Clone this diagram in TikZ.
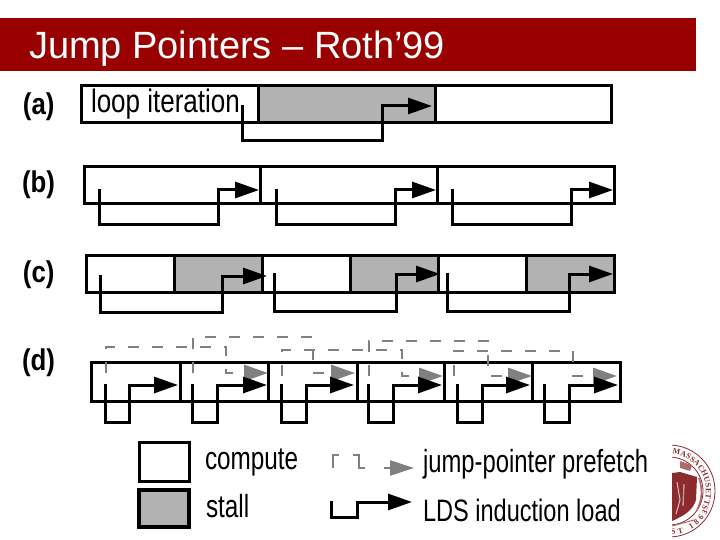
\documentclass[tikz,border=0pt]{standalone}
\usepackage{fontspec}
\setmainfont{Liberation Sans}
\newfontfamily\sealfont{Liberation Serif}
\usetikzlibrary{arrows.meta,decorations.text}
\definecolor{titlered}{HTML}{990000}
\definecolor{stallgrey}{HTML}{B2B2B2}
\definecolor{prefgrey}{HTML}{808080}
\definecolor{sealred}{HTML}{8C2A2E}
\tikzset{
  x=1pt,y=-1pt,
  seg/.style={draw=black,line width=3pt,anchor=north west,inner sep=0pt,outer sep=0pt},
  computeseg/.style={seg,fill=white},
  stallseg/.style={seg,fill=stallgrey},
  loadline/.style={draw=black,line width=3pt,-{Triangle[length=24pt,width=16pt]},line join=miter},
  prefline/.style={draw=prefgrey,line width=2.8pt,dash pattern=on 11pt off 13pt,-{Triangle[length=24pt,width=16pt]}},
  prefmark/.style={draw=prefgrey,line width=2.6pt},
  txt/.style={anchor=base west,inner sep=0pt,outer sep=0pt},
}
% name, style, x0, x1, y0, y1
\newcommand{\segbox}[6]{\node[#2,minimum width={(#4-#3)*1pt},minimum height={(#6-#5)*1pt}] (#1) at (#3,#5) {};}
% name, xstart, ystart, ybottom, xup, yrun, xtip
\newcommand{\loadpath}[7]{%
  \coordinate (#1s) at (#2,#3);\coordinate (#1e) at (#7,#6);
  \draw[loadline] (#1s) -- (#2,#4) -- (#5,#4) -- (#5,#6) -- (#1e);}
% name, xstart, ystart, ytop, xdown, yrun, xtip
\newcommand{\prefpath}[7]{%
  \coordinate (#1s) at (#2,#3);\coordinate (#1e) at (#7,#6);
  \draw[prefline] (#1s) -- (#2,#4) -- (#5,#4) -- (#5,#6) -- (#1e);}
\newcommand{\lab}[3]{\scalebox{#1}[1]{\fontsize{#2}{#2}\selectfont #3}}
\begin{document}
\begin{tikzpicture}
\useasboundingbox (0,0) rectangle (720,540);
\fill[white] (0,0) rectangle (720,540);
% title
\node[fill=titlered,anchor=north west,minimum width=696pt,minimum height=53pt,inner sep=0pt,outer sep=0pt] (bar) at (0,18) {};
\node[txt,text=white] (title) at (29,58.5) {\fontsize{38}{40}\selectfont Jump Pointers – Roth’99};
% row labels
\node[txt] (la) at (23,115) {\lab{0.86}{30}{\bfseries (a)}};
\node[txt] (lb) at (22,193) {\lab{0.86}{30}{\bfseries (b)}};
\node[txt] (lc) at (23,282) {\lab{0.86}{30}{\bfseries (c)}};
\node[txt] (ld) at (22,370) {\lab{0.86}{30}{\bfseries (d)}};
% row a
\segbox{a1}{computeseg}{81}{258}{86}{123}
\segbox{a2}{stallseg}{258}{435}{86}{123}
\segbox{a3}{computeseg}{435}{611}{86}{123}
\node[txt] (loop) at (91,113) {\lab{0.8}{32.5}{loop iteration}};
\loadpath{la1}{242}{105}{141}{382}{106}{432}
% row b
\segbox{b1}{computeseg}{84}{260}{167}{204}
\segbox{b2}{computeseg}{260}{437}{167}{204}
\segbox{b3}{computeseg}{437}{614}{167}{204}
\loadpath{lb1}{99}{189}{225}{218}{190}{259}
\loadpath{lb2}{276}{189}{225}{395}{190}{436}
\loadpath{lb3}{452}{189}{225}{571}{190}{613}
% row c
\segbox{c1}{computeseg}{86}{174}{255}{292}
\segbox{c2}{stallseg}{174}{262}{255}{292}
\segbox{c3}{computeseg}{262}{350}{255}{292}
\segbox{c4}{stallseg}{350}{438}{255}{292}
\segbox{c5}{computeseg}{438}{526}{255}{292}
\segbox{c6}{stallseg}{526}{614}{255}{292}
\loadpath{lc1}{100}{275}{312}{222}{276}{267}
\loadpath{lc2}{274}{273}{311}{396}{274}{440}
\loadpath{lc3}{447}{273}{311}{569}{274}{613}
% row d
\segbox{d1}{computeseg}{91}{180}{362}{401}
\segbox{d2}{computeseg}{180}{268}{362}{401}
\segbox{d3}{computeseg}{268}{357}{362}{401}
\segbox{d4}{computeseg}{357}{444}{362}{401}
\segbox{d5}{computeseg}{444}{532}{362}{401}
\segbox{d6}{computeseg}{532}{620}{362}{401}
\prefpath{pd1}{106}{373}{347}{226}{373}{268}
\prefpath{pd2}{193}{373}{337}{313}{373}{355}
\prefpath{pd3}{282}{376}{350}{402}{376}{443}
\prefpath{pd4}{369}{376}{341}{488}{376}{532}
\prefpath{pd5}{454}{376}{351}{573}{376}{617}
\loadpath{ld1}{105}{384}{422}{129}{385}{178}
\loadpath{ld2}{192}{384}{422}{217}{385}{267}
\loadpath{ld3}{281}{384}{422}{306}{385}{354}
\loadpath{ld4}{368}{384}{422}{393}{385}{442}
\loadpath{ld5}{457}{384}{422}{482}{385}{530}
\loadpath{ld6}{544}{384}{422}{569}{385}{618}
% legend
\segbox{kc}{computeseg}{139}{189}{442}{481}
\node[stallseg,line width=3.8pt,minimum width=50pt,minimum height=37pt] (ks) at (139,490) {};
\node[txt] (tc) at (205,469) {\lab{0.76}{32}{compute}};
\node[txt] (ts) at (206,517) {\lab{0.76}{32}{stall}};
\node[txt] (tj) at (423,472) {\lab{0.745}{32}{jump-pointer prefetch}};
\node[txt] (tl) at (423,521) {\lab{0.76}{31}{LDS induction load}};
\coordinate (m1a) at (333,468);\coordinate (m1b) at (339,455);
\draw[prefmark] (m1a) |- (m1b);
\coordinate (m2a) at (353,455);\coordinate (m2b) at (365,468);
\draw[prefmark] (m2a) -- (359,455) -- (359,468) -- (m2b);
\coordinate (m3a) at (384,468);\coordinate (m3b) at (414,468);
\draw[draw=prefgrey,line width=2.6pt,-{Triangle[length=24pt,width=15pt]}] (m3a) -- (m3b);
\coordinate (m4a) at (331,501);\coordinate (m4b) at (412,502);
\draw[loadline] (m4a) -- (331,517) -- (357,517) -- (357,502) -- (m4b);
% seal
\begin{scope}
\clip (672,440) rectangle (720,540);
\coordinate (sc) at (669,491);
\draw[sealred,line width=0.8pt] (sc) circle[radius=46pt];
\draw[sealred,line width=0.8pt] (sc) circle[radius=34pt];
\path[decorate,decoration={text along path,text color=sealred,
  text={|\sealfont\bfseries\fontsize{8}{8}\selectfont|MASSACHUSETTS},text align=fit to path}]
  ([shift={(85:37pt)}]sc) arc[start angle=85,end angle=-28,radius=37pt];
\path[decorate,decoration={text along path,text color=sealred,
  text={|\sealfont\bfseries\fontsize{8}{8}\selectfont|ST 1863},text align=fit to path}]
  ([shift={(273:44pt)}]sc) arc[start angle=273,end angle=332,radius=44pt];
\fill[sealred] (672,473) -- (680,472) -- (697,477) -- (696,500) .. controls (693,510) and (684,516) .. (672,521) -- cycle;
\draw[white,line width=1pt,opacity=.7] (677,482) -- (680,500) -- (676,514);
\draw[white,line width=1.4pt,opacity=.5] (684,484) -- (683,506);
\fill[sealred!70] (680,461) -- (692,465) -- (690,471) -- (680,468) -- cycle;
\draw[sealred!70,line width=1.6pt] (699,478) .. controls (703,490) and (702,500) .. (697,510);
\draw[sealred!70,line width=1pt] (694,520) -- (672,526);
\end{scope}
\end{tikzpicture}
\end{document}
